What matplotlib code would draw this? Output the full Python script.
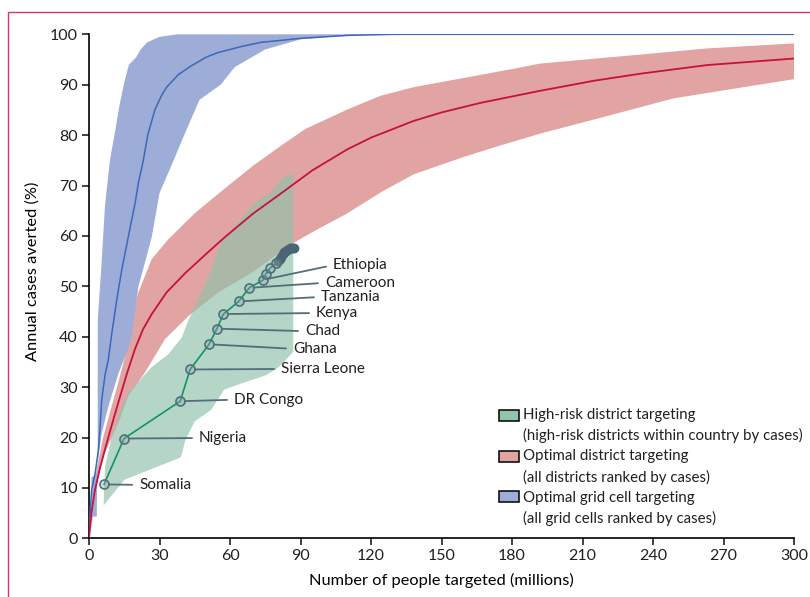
import matplotlib.pyplot as plt
from matplotlib.patches import Rectangle

plt.rcParams['font.family'] = ['Lato', 'DejaVu Sans']

# optimal grid cell targeting (blue)
grid_x = [0, 0, 1.1, 2.6, 4.0, 4.7, 5.4, 6.8, 8.2, 9.7, 11.8, 13.9, 16.7, 19.6, 21.0, 23.1, 25, 28, 31, 33,
          38, 43, 50, 55, 65, 73, 90, 110, 130, 300]
grid_y = [0, 1.6, 9.6, 12.9, 17.5, 22.1, 27.4, 32.4, 35.4, 40.7, 47.3, 53.2, 59.8, 66.5, 70.5, 75, 80, 85, 88, 89.5,
          92, 93.6, 95.5, 96.4, 97.6, 98.4, 99.2, 99.8, 100, 100]
grid_hi_x = [1.0, 1.0, 3.7, 3.7, 5.4, 6.8, 8.9, 11, 13, 15, 17, 20, 22, 24.7, 30, 37.5, 300]
grid_hi_y = [4.3, 12, 13, 43, 55, 66, 75, 80.5, 86, 90.5, 94, 95.4, 97, 98.4, 99.5, 100, 100]
grid_lo_x = [1.0, 3.3, 3.5, 4.0, 5.4, 8.2, 12.5, 17, 18.5, 21, 26.7, 30, 36, 40.5, 47, 56, 62, 75, 90, 103, 125, 300]
grid_lo_y = [4.3, 4.3, 14, 16.2, 20.8, 26.1, 32.7, 38, 41, 49.9, 59.8, 68.5, 75, 80, 87, 90, 93.5, 97, 99, 99.5,
             100, 100]

# optimal district targeting (red)
dist_x = [0, 1, 2.5, 4.7, 7, 9.7, 12.5, 16, 19.5, 23, 26.7, 33, 40.9, 50, 57.9, 70, 81.3, 95, 110, 120, 138,
          150, 166.6, 192, 215, 234.8, 263, 300]
dist_y = [0, 5, 9.5, 14, 18, 22.5, 27, 32.5, 37.5, 41.5, 44.5, 48.8, 52.6, 56.5, 59.8, 64.5, 68.3, 73, 77.2, 79.5,
          82.8, 84.5, 86.4, 88.8, 90.8, 92.2, 93.9, 95.2]
dist_hi_x = [0, 1, 3, 6, 9.5, 12.5, 15.3, 18.2, 21, 26.7, 33.7, 45, 58, 70, 82, 92, 110, 124, 138, 159, 181, 192,
             235, 263, 300]
dist_hi_y = [0, 6, 13, 20, 26, 31, 36, 43.5, 48.8, 55.4, 59.3, 64.5, 69.5, 74, 78, 81.2, 85.1, 87.8, 89.5, 91.3,
             93.2, 94.2, 96, 97.2, 98.2]
dist_lo_x = [0, 2, 4, 6.8, 12.5, 16.7, 23.8, 32.3, 42.3, 55, 69.3, 80, 87, 96, 110, 124, 138, 159, 174, 192, 220.6,
             248.8, 277, 300]
dist_lo_y = [0, 5, 13, 17, 22.9, 28.2, 32.9, 39.5, 44.1, 48.8, 52.7, 56.3, 58.6, 61, 64.5, 68.6, 72.2, 75.6, 77.8,
             80.3, 83.8, 87.3, 89.4, 91.1]

# high-risk district targeting (green)
risk_hi_x = [6.2, 6.8, 9.7, 13.9, 16.7, 26.7, 33.7, 39.4, 42.3, 45.1, 50.8, 56.5, 59.3, 68.0, 69.3, 77.7, 83.4, 86.9]
risk_hi_y = [6.9, 14.2, 20.2, 26.1, 28.8, 34.0, 36.5, 39.8, 43.3, 46.0, 51.9, 59.2, 60.5, 65.1, 66.1, 68.8, 72.1, 72.1]
risk_lo_x = [6.2, 15, 38.8, 39.4, 41, 45, 52, 57.5, 66.5, 75, 79.5, 83, 86.9]
risk_lo_y = [6.5, 11.6, 16, 16.5, 19.5, 23.2, 25.5, 29.5, 31, 32.3, 33.5, 35, 37]

countries = ['Somalia', 'Nigeria', 'DR Congo', 'Sierra Leone', 'Ghana', 'Chad', 'Kenya', 'Tanzania',
             'Cameroon', 'Ethiopia']
country_x = [6.4, 14.9, 38.8, 43.0, 51.1, 54.4, 57.2, 63.7, 68.2, 74.2]
country_y = [10.7, 19.8, 27.2, 33.5, 38.5, 41.6, 44.5, 47.0, 49.7, 51.3]
other_x = [75.2, 77.0, 79.6]
other_y = [52.4, 53.6, 54.6]
small_x = [80.5, 81.2, 81.9, 82.5, 83.1, 83.7, 84.3, 84.9, 85.5, 86.1, 86.7, 87.3]
small_y = [55.0, 55.4, 55.9, 56.4, 56.8, 57.1, 57.3, 57.5, 57.6, 57.7, 57.7, 57.6]

legend_lines = ['High-risk district targeting', '(high-risk districts within country by cases)',
                'Optimal district targeting', '(all districts ranked by cases)',
                'Optimal grid cell targeting', '(all grid cells ranked by cases)']

blue_fill, blue_line = '#9eadd7', '#3b68b9'
red_fill, red_line = '#e1a4a2', '#c5113c'
green_fill, green_line = '#92c3ab', '#0f9468'
slate = '#536e7a'

fig = plt.figure(figsize=(8.1, 5.97), dpi=100)
ax = fig.add_axes([0.1099, 0.0983, 0.8704, 0.8442])

ax.fill(dist_hi_x + dist_lo_x[::-1], dist_hi_y + dist_lo_y[::-1], color=red_fill, lw=0, zorder=1)
ax.fill(grid_hi_x + grid_lo_x[::-1], grid_hi_y + grid_lo_y[::-1], color=blue_fill, lw=0, zorder=1)
ax.fill(risk_hi_x + risk_lo_x[::-1], risk_hi_y + risk_lo_y[::-1], color=green_fill, alpha=0.68, lw=0, zorder=2)

ax.plot(grid_x, grid_y, color=blue_line, lw=1.1, zorder=3)
ax.plot(dist_x, dist_y, color=red_line, lw=1.3, zorder=3)

path_x = country_x + other_x + small_x
path_y = country_y + other_y + small_y
ax.plot(path_x, path_y, color=green_line, lw=1.2, zorder=4)
ax.plot(small_x, small_y, 'o', ms=6, color='#4b6672', zorder=5)
ax.plot(country_x + other_x, country_y + other_y, 'o', ms=6.5, mfc=(0.55, 0.65, 0.68, 0.35),
        mec=slate, mew=1.2, zorder=5)

# label positions (data units) for the country names
label_pos = {'Somalia': (21.3, 10.6), 'Nigeria': (46.8, 19.9), 'DR Congo': (61.7, 27.5),
             'Sierra Leone': (81.7, 33.6), 'Ghana': (86.8, 37.6), 'Chad': (91.9, 41.1),
             'Kenya': (96.6, 44.7), 'Tanzania': (98.7, 47.9), 'Cameroon': (100.4, 50.7),
             'Ethiopia': (103.8, 54.2)}
for name, cx, cy in zip(countries, country_x, country_y):
    ax.annotate(name, xy=(cx, cy), xytext=label_pos[name], ha='left', va='center',
                fontsize=11, color='#231f20', zorder=6,
                arrowprops=dict(arrowstyle='-', color=slate, lw=1.3, relpos=(0, 0.5),
                                shrinkA=3, shrinkB=3.5))

# legend drawn by hand: swatch + two text lines per entry
for i, col in enumerate([green_fill, red_fill, blue_fill]):
    yc = 0.2446 - i * 0.0813
    ax.add_patch(Rectangle((0.5816, yc - 0.0109), 0.0284, 0.0218, transform=ax.transAxes,
                           facecolor=col, edgecolor='black', lw=1.1, clip_on=False, zorder=6))
for j, line in enumerate(legend_lines):
    ax.text(0.6152, 0.2446 - j * 0.041, line, transform=ax.transAxes, ha='left', va='center',
            fontsize=10.8, color='#231f20')

ax.set_xlim(0, 300)
ax.set_ylim(0, 100)
ax.set_xticks(range(0, 301, 30))
ax.set_yticks(range(0, 101, 10))
for s in ['top', 'right']:
    ax.spines[s].set_visible(False)
for s in ['left', 'bottom']:
    ax.spines[s].set_linewidth(1.2)
ax.tick_params(direction='out', length=5, width=1.2, labelsize=11.5, pad=3, colors='#231f20')
ax.set_xlabel('Number of people targeted (millions)', fontsize=11.8, labelpad=7)
ax.set_ylabel('Annual cases averted (%)', fontsize=11.8)
ax.yaxis.set_label_coords(-0.0695, 0.53)

fig.patches.append(Rectangle((8 / 810, -0.05), 1.2, (597 - 12) / 597 + 0.05, transform=fig.transFigure,
                             fill=False, edgecolor='#d03a60', lw=1.0))

fig.savefig('out.png', dpi=100)
